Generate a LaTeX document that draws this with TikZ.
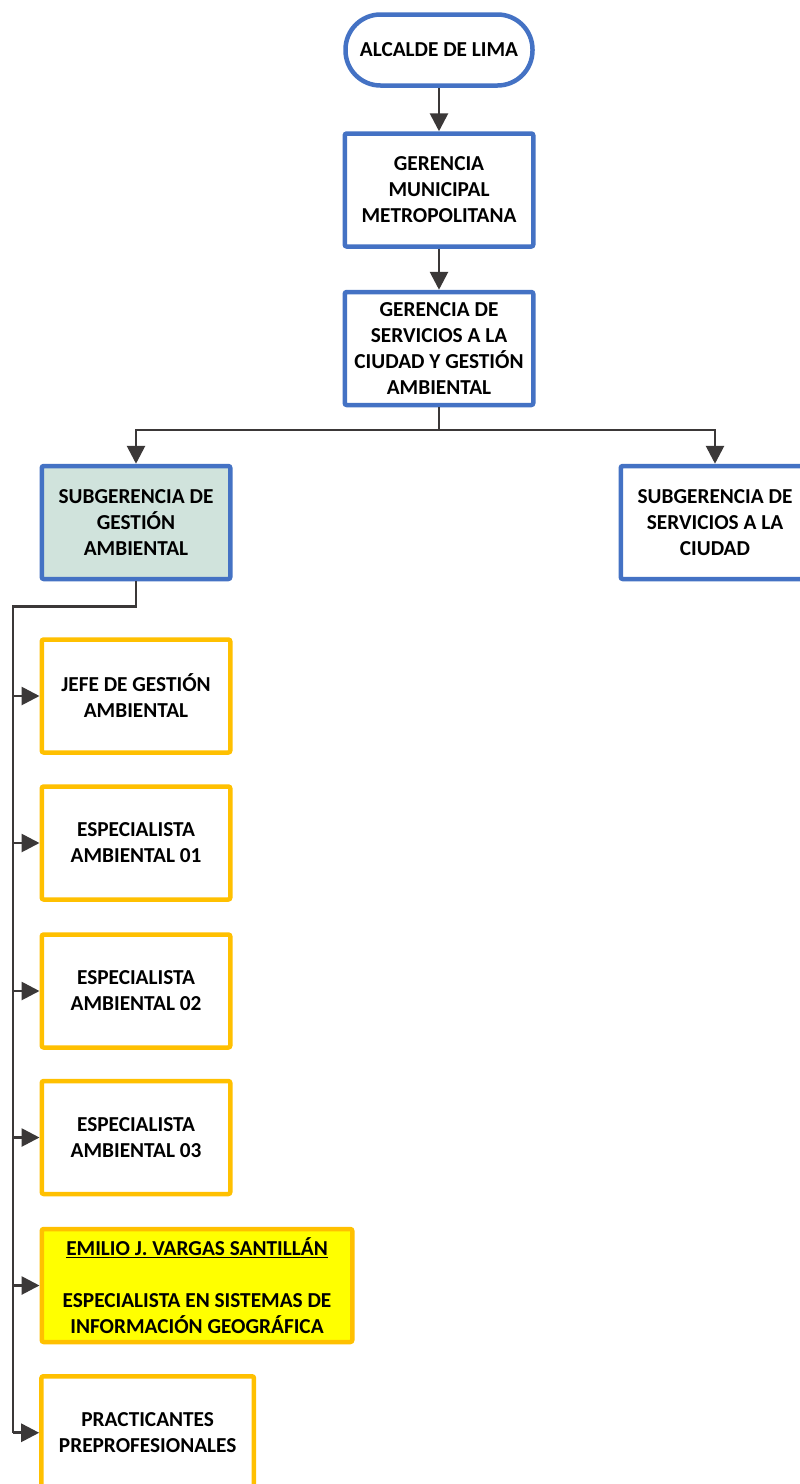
\documentclass[tikz,border=0pt]{standalone}
\usepackage{fontspec}
\setmainfont{Carlito}
\usetikzlibrary{arrows.meta}
\definecolor{blu}{HTML}{4472C4}
\definecolor{orng}{HTML}{FFC000}
\definecolor{lin}{HTML}{3B3838}
\definecolor{sgafill}{RGB}{208,227,220}
\definecolor{yel}{HTML}{FFFF00}
\begin{document}
\begin{tikzpicture}[x=1pt,y=-1pt,
  box/.style={draw=blu,line width=4.5pt,rounded corners=2pt,minimum width=188.5pt,minimum height=113pt,align=center,inner sep=0pt,font=\fontsize{21.3}{26}\selectfont\bfseries,text=black},
  ybox/.style={box,draw=orng},
  conn/.style={draw=lin,line width=2.8pt,line join=miter},
  arr/.style={conn,-{Triangle[length=18pt,width=18pt]}}
]
\useasboundingbox (0,0) rectangle (800,1484);
\clip (0,0) rectangle (800,1484);
\fill[white] (0,0) rectangle (800,1484);

\node[box,rounded corners=35pt,minimum width=187pt,minimum height=71pt] (alc) at (439,50) {ALCALDE DE LIMA};
\node[box] (gmm) at (439,190) {GERENCIA\\MUNICIPAL\\METROPOLITANA};
\node[box] (gsc) at (439,348.5) {GERENCIA DE\\SERVICIOS A LA\\CIUDAD Y GESTIÓN\\AMBIENTAL};
\node[box,fill=sgafill] (sga) at (136,522.5) {SUBGERENCIA DE\\GESTIÓN\\AMBIENTAL};
\node[box] (ssc) at (715,522.5) {SUBGERENCIA DE\\SERVICIOS A LA\\CIUDAD};

\node[ybox] (jefe) at (136,696) {JEFE DE GESTIÓN\\AMBIENTAL};
\node[ybox] (e1) at (136,843) {ESPECIALISTA\\AMBIENTAL 01};
\node[ybox] (e2) at (136,991) {ESPECIALISTA\\AMBIENTAL 02};
\node[ybox] (e3) at (136,1137.5) {ESPECIALISTA\\AMBIENTAL 03};
\node[ybox,fill=yel,minimum width=310.5pt] (emi) at (197,1285.5) {\underline{EMILIO J. VARGAS SANTILLÁN}\\[26pt]ESPECIALISTA EN SISTEMAS DE\\INFORMACIÓN GEOGRÁFICA};
\node[ybox,minimum width=212.5pt] (pra) at (147.7,1432.75) {PRACTICANTES\\PREPROFESIONALES};

\draw[arr] (alc.south) -- (gmm.north);
\draw[arr] (gmm.south) -- (gsc.north);
\coordinate (br) at (439,430);
\draw[conn] (gsc.south) -- (br);
\draw[arr] (br) -| (sga.north);
\draw[arr] (br) -| (ssc.north);

\coordinate (bt) at (13,606.5);
\draw[conn] (sga.south) |- (bt) -- (pra.west -| bt);
\foreach \n in {jefe,e1,e2,e3,emi,pra}
  \draw[arr] (\n.west -| bt) -- (\n.west);
\end{tikzpicture}
\end{document}
